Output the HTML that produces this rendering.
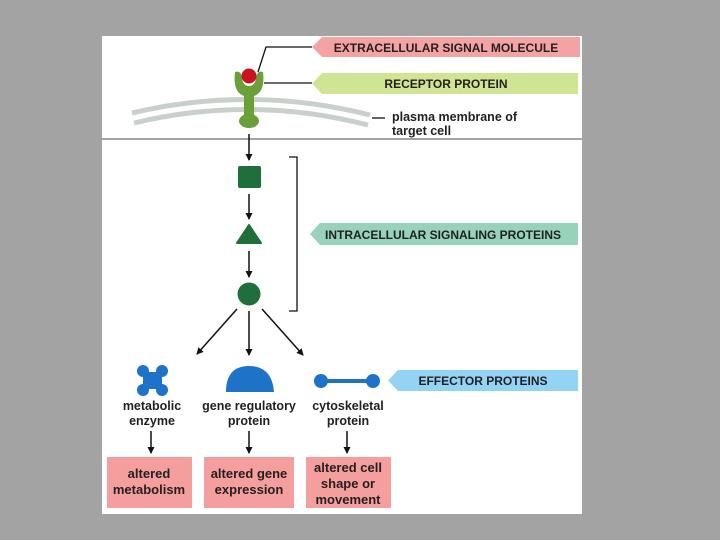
<!DOCTYPE html>
<html><head><style>
body{margin:0;background:#a3a3a3;}
svg{display:block}
text{font-family:"Liberation Sans",sans-serif;font-weight:bold;fill:#231f20}
</style></head><body>
<svg width="720" height="540" viewBox="0 0 720 540">
<defs><marker id="a" markerWidth="8" markerHeight="8" refX="6" refY="4" orient="auto" markerUnits="userSpaceOnUse"><path d="M0,0.5 L7,4 L0,7.5z" fill="#111"/></marker></defs>
<rect x="0" y="0" width="720" height="540" fill="#a3a3a3"/>
<rect x="102" y="36" width="480" height="478" fill="#fff"/>
<line x1="0" y1="139" x2="720" y2="139" stroke="#a3a3a3" stroke-width="2"/>
<polygon points="322,37 580,37 580,57 322,57 312,47" fill="#f4a3a3"/>
<text x="446" y="52" font-size="12" text-anchor="middle">EXTRACELLULAR SIGNAL MOLECULE</text>
<polygon points="322,73 578,73 578,94 322,94 312,83.5" fill="#cfe594"/>
<text x="446" y="88" font-size="12" text-anchor="middle">RECEPTOR PROTEIN</text>
<polygon points="320,223 578,223 578,245 320,245 310,234" fill="#97d3bb"/>
<text x="443" y="239" font-size="12" text-anchor="middle">INTRACELLULAR SIGNALING PROTEINS</text>
<polygon points="398,370 578,370 578,391 398,391 388,380.5" fill="#93d4f4"/>
<text x="483" y="385" font-size="12" text-anchor="middle">EFFECTOR PROTEINS</text>
<polyline points="312,47 266,47 258,72" fill="none" stroke="#111" stroke-width="1.3"/>
<line x1="264" y1="83" x2="312" y2="83" stroke="#111" stroke-width="1.3"/>
<line x1="372" y1="118" x2="385" y2="118" stroke="#111" stroke-width="1.3"/>
<text x="392" y="121" font-size="12.5">plasma membrane of</text>
<text x="392" y="135" font-size="12.5">target cell</text>
<path d="M132,113 Q250,85 370,115" fill="none" stroke="#c9d0cb" stroke-width="5"/>
<path d="M134,123 Q250,95 368,125" fill="none" stroke="#c9d0cb" stroke-width="5"/>
<path d="M235,72 Q232,96 249,97 Q266,96 263,72 Q257,70 256,78 Q255,86 249,86 Q243,86 242,78 Q241,70 235,72z" fill="#6a9f3a"/>
<rect x="244" y="92" width="10" height="28" fill="#6a9f3a"/>
<ellipse cx="249" cy="121" rx="10" ry="7" fill="#6a9f3a"/>
<circle cx="249" cy="76" r="7.5" fill="#c8141e"/>
<line x1="249" y1="134" x2="249" y2="160" stroke="#111" stroke-width="1.5" marker-end="url(#a)"/>
<rect x="238" y="166" width="23" height="22" rx="2" fill="#1f6f3a"/>
<line x1="249" y1="194" x2="249" y2="219" stroke="#111" stroke-width="1.5" marker-end="url(#a)"/>
<polygon points="249,225 261,243 237,243" fill="#1f6f3a" stroke="#1f6f3a" stroke-width="2" stroke-linejoin="round"/>
<line x1="249" y1="251" x2="249" y2="277" stroke="#111" stroke-width="1.5" marker-end="url(#a)"/>
<circle cx="249" cy="294" r="11.5" fill="#1f6f3a"/>
<polyline points="289,157 297,157 297,311 289,311" fill="none" stroke="#111" stroke-width="1.3"/>
<line x1="237" y1="309" x2="197" y2="354" stroke="#111" stroke-width="1.5" marker-end="url(#a)"/>
<line x1="249" y1="311" x2="249" y2="355" stroke="#111" stroke-width="1.5" marker-end="url(#a)"/>
<line x1="262" y1="309" x2="303" y2="355" stroke="#111" stroke-width="1.5" marker-end="url(#a)"/>
<g fill="#1e73c8">
<circle cx="143" cy="371" r="6"/><circle cx="162" cy="371" r="6"/><circle cx="143" cy="390" r="6"/><circle cx="162" cy="390" r="6"/>
<rect x="143" y="372" width="19" height="17"/>
<path d="M226,392 Q226,366 249,366 Q272,366 274,392z"/>
<circle cx="321" cy="381" r="7"/><circle cx="373" cy="381" r="7"/>
<rect x="321" y="379" width="52" height="4"/>
</g>
<g font-size="12.5" text-anchor="middle">
<text x="152" y="410">metabolic</text><text x="152" y="425">enzyme</text>
<text x="249" y="410">gene regulatory</text><text x="249" y="425">protein</text>
<text x="348" y="410">cytoskeletal</text><text x="348" y="425">protein</text>
</g>
<line x1="151" y1="431" x2="151" y2="453" stroke="#111" stroke-width="1.5" marker-end="url(#a)"/>
<line x1="249" y1="431" x2="249" y2="453" stroke="#111" stroke-width="1.5" marker-end="url(#a)"/>
<line x1="347" y1="431" x2="347" y2="453" stroke="#111" stroke-width="1.5" marker-end="url(#a)"/>
<rect x="107" y="457" width="85" height="51" fill="#f49e9e"/>
<rect x="204" y="457" width="90" height="51" fill="#f49e9e"/>
<rect x="306" y="457" width="85" height="51" fill="#f49e9e"/>
<g font-size="13" text-anchor="middle">
<text x="149" y="478">altered</text><text x="149" y="494">metabolism</text>
<text x="249" y="478">altered gene</text><text x="249" y="494">expression</text>
<text x="348" y="472">altered cell</text><text x="348" y="488">shape or</text><text x="348" y="504">movement</text>
</g>
</svg>
</body></html>
